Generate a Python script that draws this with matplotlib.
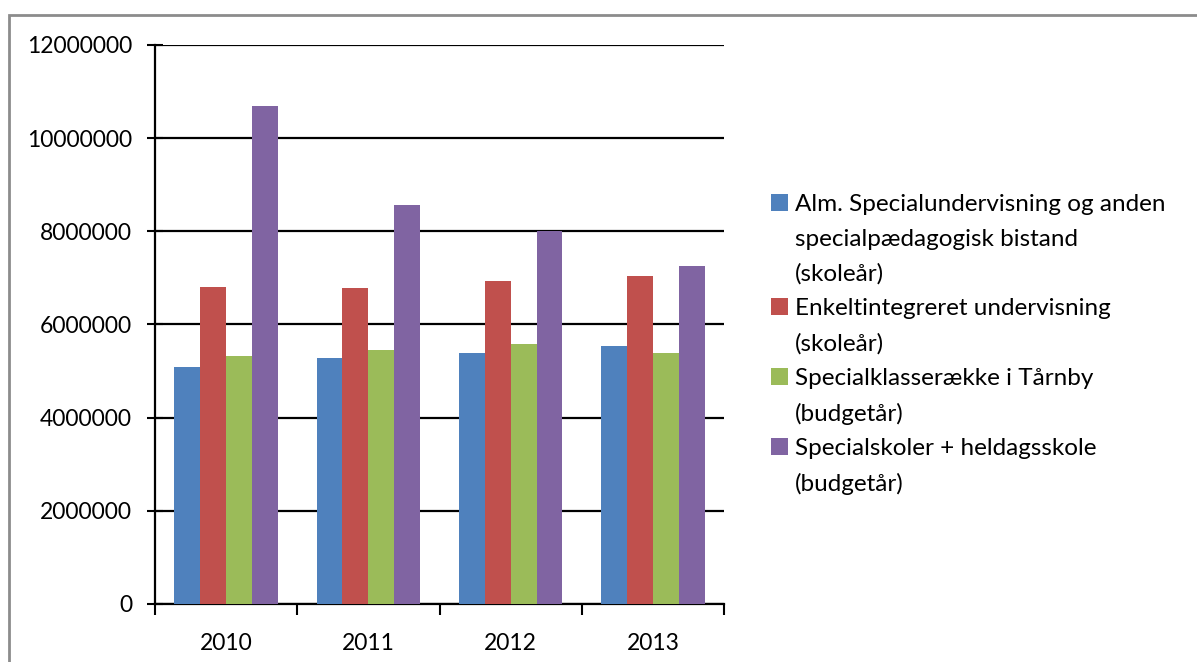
import numpy as np
import matplotlib.pyplot as plt
from matplotlib.patches import Rectangle, Patch

plt.rcParams['font.family'] = ['Lato', 'DejaVu Sans']

years = ['2010', '2011', '2012', '2013']
series_names = [
    'Alm. Specialundervisning og anden\nspecialpædagogisk bistand\n(skoleår)',
    'Enkeltintegreret undervisning\n(skoleår)',
    'Specialklasserække i Tårnby\n(budgetår)',
    'Specialskoler + heldagsskole\n(budgetår)',
]
alm = [5090000, 5280000, 5390000, 5540000]
enkelt = [6810000, 6790000, 6940000, 7050000]
specialklasse = [5330000, 5460000, 5590000, 5390000]
specialskoler = [10700000, 8570000, 8000000, 7260000]
colors = ['#4F81BD', '#C0504D', '#9BBB59', '#8064A2']

fig = plt.figure(figsize=(11.97, 6.62), dpi=100)
ax = fig.add_axes([155/1197, 1 - 604/662, (724 - 155)/1197, (604 - 45)/662])

# grey frame around the chart area
fig.patches.append(Rectangle((9/1197, -0.05), 1.1, 1 - 15/662 + 0.05,
                             transform=fig.transFigure, fill=False,
                             edgecolor='#8c8c8c', lw=2))

x = np.arange(len(years))
w = 0.182
data = [alm, enkelt, specialklasse, specialskoler]
for i, (vals, c) in enumerate(zip(data, colors)):
    ax.bar(x + (i - 1.5) * w, vals, width=w, color=c, zorder=3)

ax.set_xlim(-0.5, 3.5)
ax.set_ylim(0, 12000000)
ax.set_yticks(np.arange(0, 12000001, 2000000))
ax.set_yticklabels([str(v) for v in range(0, 12000001, 2000000)])
ax.yaxis.grid(True, color='black', lw=1.6, zorder=1)

ax.set_xticks(np.arange(-0.5, 4, 1))
ax.set_xticklabels([])
ax.set_xticks(x, minor=True)
ax.set_xticklabels(years, minor=True)
ax.tick_params(axis='x', which='major', direction='out', length=8, width=1.5)
ax.tick_params(axis='x', which='minor', length=0, pad=21, labelsize=16.5)
ax.tick_params(axis='y', direction='inout', length=11, width=1.5, pad=11, labelsize=16.5)

for s in ['top', 'right']:
    ax.spines[s].set_visible(False)
for s in ['left', 'bottom']:
    ax.spines[s].set_linewidth(1.6)

# legend: one row per text line, colour square only on the first line
handles, labels = [], []
for name, c in zip(series_names, colors):
    for j, line in enumerate(name.split('\n')):
        if j == 0:
            handles.append(Patch(facecolor=c, edgecolor='none'))
        else:
            handles.append(Patch(facecolor='none', edgecolor='none'))
        labels.append(line)

ax.legend(handles, labels, loc='upper left',
          bbox_to_anchor=(771/1197, 1 - 194/662),
          bbox_transform=fig.transFigure, frameon=False, fontsize=17.5,
          handlelength=0.7, handleheight=0.7, handletextpad=0.3,
          labelspacing=0.56, borderpad=0, borderaxespad=0)

fig.savefig('out.png', dpi=100)
